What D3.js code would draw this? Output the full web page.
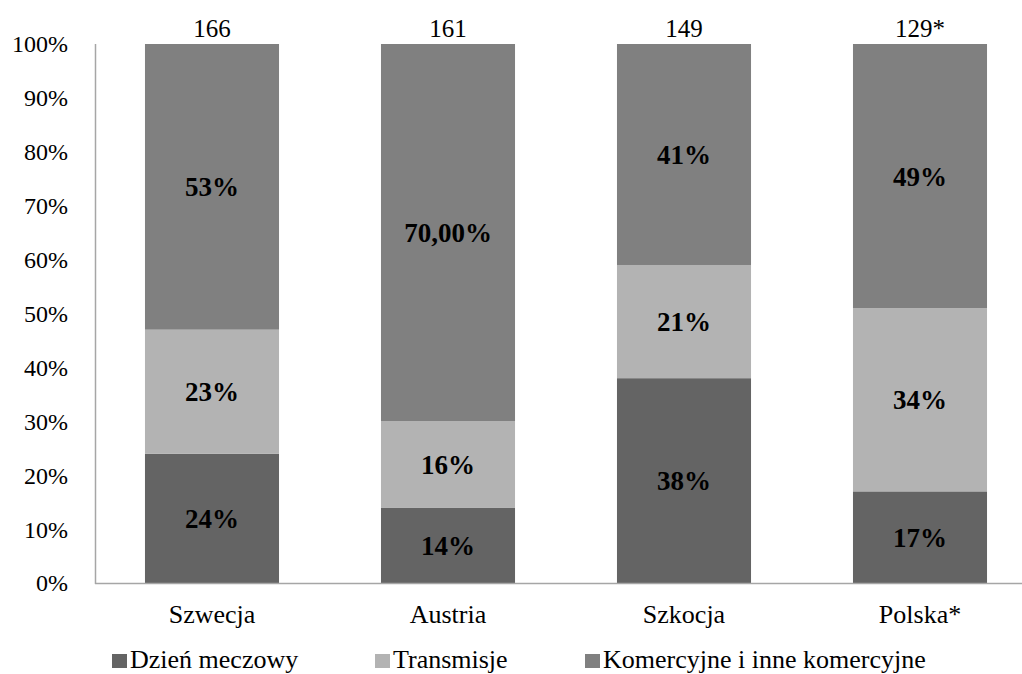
<!DOCTYPE html>
<html><head><meta charset="utf-8">
<script src="https://d3js.org/d3.v7.min.js"></script>
<style>body{margin:0;background:#fff}svg{display:block}</style>
</head><body><svg id="c" width="1022" height="674" font-family="'Liberation Serif','Times New Roman',serif"></svg>
<script>
const categories = ["Szwecja","Austria","Szkocja","Polska*"];
const totals = ["166","161","149","129*"];
const seriesNames = ["Dzień meczowy","Transmisje","Komercyjne i inne komercyjne"];
const dzien = [24,14,38,17];
const transmisje = [23,16,21,34];
const komercyjne = [53,70,41,49];
const labelsDzien = ["24%","14%","38%","17%"];
const labelsTrans = ["23%","16%","21%","34%"];
const labelsKom = ["53%","70,00%","41%","49%"];
const yTicks = [0,10,20,30,40,50,60,70,80,90,100];
const colors = ["#646464","#b3b3b3","#808080"];

const svg = d3.select("#c");
const x = d3.scaleBand().domain(categories).range([94,1038]).paddingInner(0.432).paddingOuter(0.216);
const y = d3.scaleLinear().domain([0,100]).range([583,44]);

const series = [dzien, transmisje, komercyjne];
const labels = [labelsDzien, labelsTrans, labelsKom];
const rows = categories.map((c,i)=>{const o={cat:c}; seriesNames.forEach((s,k)=>o[s]=series[k][i]); return o;});
const stack = d3.stack().keys(seriesNames)(rows);

stack.forEach((layer,k)=>{
  svg.append("g").selectAll("rect").data(layer).join("rect")
    .attr("x",d=>x(d.data.cat)).attr("width",x.bandwidth())
    .attr("y",d=>y(d[1])).attr("height",d=>y(d[0])-y(d[1]))
    .attr("fill",colors[k]);
  svg.append("g").selectAll("text").data(layer).join("text")
    .attr("x",d=>x(d.data.cat)+x.bandwidth()/2).attr("y",d=>(y(d[0])+y(d[1]))/2)
    .attr("dy","0.35em").attr("text-anchor","middle")
    .attr("font-size",27).attr("font-weight","bold")
    .text((d,i)=>labels[k][i]);
});

// axes
svg.append("line").attr("x1",95).attr("x2",1022).attr("y1",583.5).attr("y2",583.5).attr("stroke","#a6a6a6").attr("stroke-width",1.5);
svg.append("line").attr("x1",95.5).attr("x2",95.5).attr("y1",44).attr("y2",584).attr("stroke","#a6a6a6").attr("stroke-width",1.5);

svg.append("g").selectAll("text").data(yTicks).join("text")
  .attr("x",68).attr("y",d=>y(d)).attr("dy","0.35em").attr("text-anchor","end")
  .attr("font-size",24).text(d=>d+"%");

svg.append("g").selectAll("text").data(categories).join("text")
  .attr("x",d=>x(d)+x.bandwidth()/2).attr("y",623).attr("text-anchor","middle")
  .attr("font-size",26).text(d=>d);

svg.append("g").selectAll("text").data(categories).join("text")
  .attr("x",d=>x(d)+x.bandwidth()/2).attr("y",37).attr("text-anchor","middle")
  .attr("font-size",25).text((d,i)=>totals[i]);

// legend
const legX = [112,375,585];
const lg = svg.append("g").selectAll("g").data(seriesNames).join("g")
  .attr("transform",(d,i)=>`translate(${legX[i]},0)`);
lg.append("rect").attr("x",0).attr("y",654).attr("width",15).attr("height",14).attr("fill",(d,i)=>colors[i]);
lg.append("text").attr("x",18).attr("y",668).attr("font-size",26).text(d=>d);
</script></body></html>
